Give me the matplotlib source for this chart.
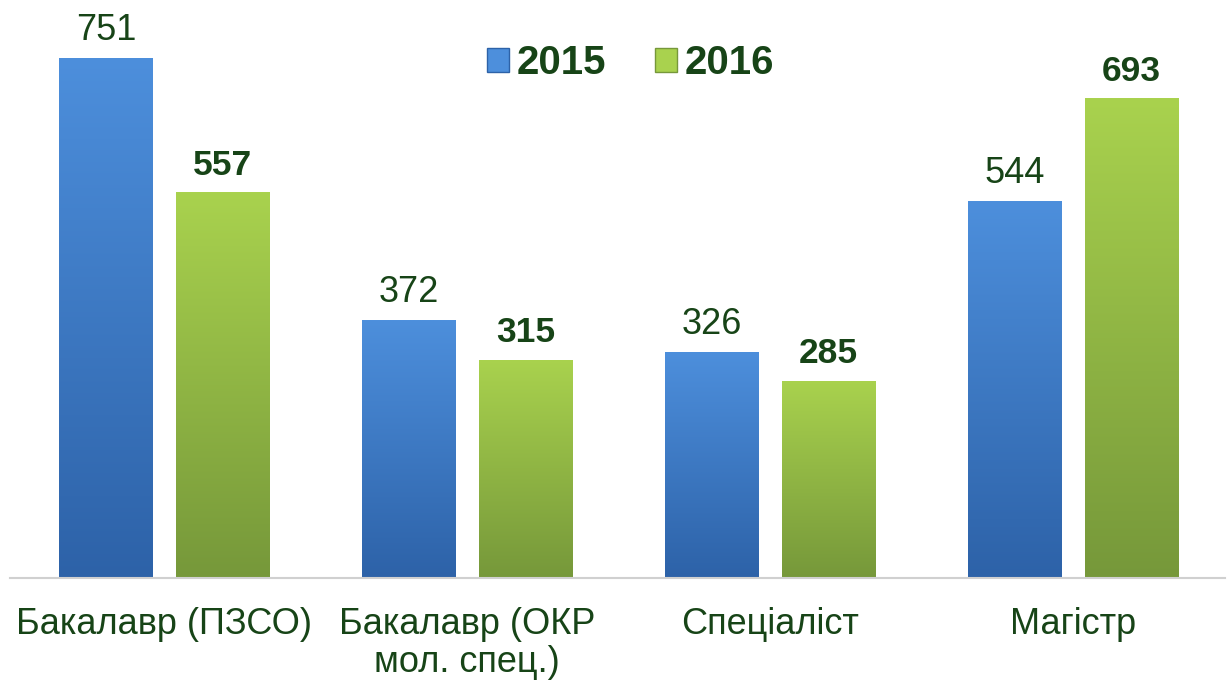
import numpy as np
import matplotlib.pyplot as plt
from matplotlib.colors import LinearSegmentedColormap
from matplotlib.patches import Patch

plt.rcParams['font.family'] = ['Liberation Sans', 'DejaVu Sans']

# Дані
categories = ['Бакалавр (ПЗСО)', 'Бакалавр (ОКР\nмол. спец.)', 'Спеціаліст', 'Магістр']
years = ['2015', '2016']
values_2015 = [751, 372, 326, 544]
values_2016 = [557, 315, 285, 693]

text_green = '#174417'
blue_top, blue_bot = '#4d8fdc', '#2d62a8'
green_top, green_bot = '#a9d24e', '#76983a'

fig = plt.figure(figsize=(12.27, 6.86), dpi=100)
ax = fig.add_axes([0.008, 0.1574, 0.99, 0.8076])

x = np.arange(len(categories))
w = 0.31
off = 0.193

bars1 = ax.bar(x - off, values_2015, w, color='none', edgecolor='none')
bars2 = ax.bar(x + off, values_2016, w, color='none', edgecolor='none')

grad = np.linspace(1, 0, 256).reshape(-1, 1)

def fill_gradient(bars, c_top, c_bot):
    cmap = LinearSegmentedColormap.from_list('g', [c_bot, c_top])
    for b in bars:
        x0, y0 = b.get_x(), b.get_y()
        bw, bh = b.get_width(), b.get_height()
        im = ax.imshow(grad, cmap=cmap, aspect='auto', vmin=0, vmax=1,
                       extent=[x0, x0 + bw, y0, y0 + bh], zorder=2)
        im.set_clip_path(b)

fill_gradient(bars1, blue_top, blue_bot)
fill_gradient(bars2, green_top, green_bot)

for b, v in zip(bars1, values_2015):
    ax.text(b.get_x() + b.get_width() / 2, v + 15, str(v), ha='center', va='bottom',
            fontsize=26, color=text_green)
for b, v in zip(bars2, values_2016):
    ax.text(b.get_x() + b.get_width() / 2, v + 15, str(v), ha='center', va='bottom',
            fontsize=25.5, color=text_green, fontweight='bold')

ax.set_xlim(-0.51, 3.5)
ax.set_ylim(0, 800)
ax.set_xticks(x)
ax.set_xticklabels(categories, fontsize=26, color=text_green, linespacing=1.12)
ax.tick_params(axis='x', length=0, pad=21)
ax.set_yticks([])
for s in ['top', 'right', 'left']:
    ax.spines[s].set_visible(False)
ax.spines['bottom'].set_color('#d0d0d0')
ax.spines['bottom'].set_linewidth(1.5)

handles = [Patch(facecolor=blue_top, edgecolor=blue_bot), Patch(facecolor=green_top, edgecolor=green_bot)]
leg = fig.legend(handles, years, loc='center', bbox_to_anchor=(0.514, 0.908), ncol=2,
                 frameon=False, handlelength=0.55, handleheight=0.55, handletextpad=0.2,
                 columnspacing=1.2, prop={'size': 29, 'weight': 'bold'})
for t in leg.get_texts():
    t.set_color(text_green)

fig.savefig('out.png', dpi=100, facecolor='white')
